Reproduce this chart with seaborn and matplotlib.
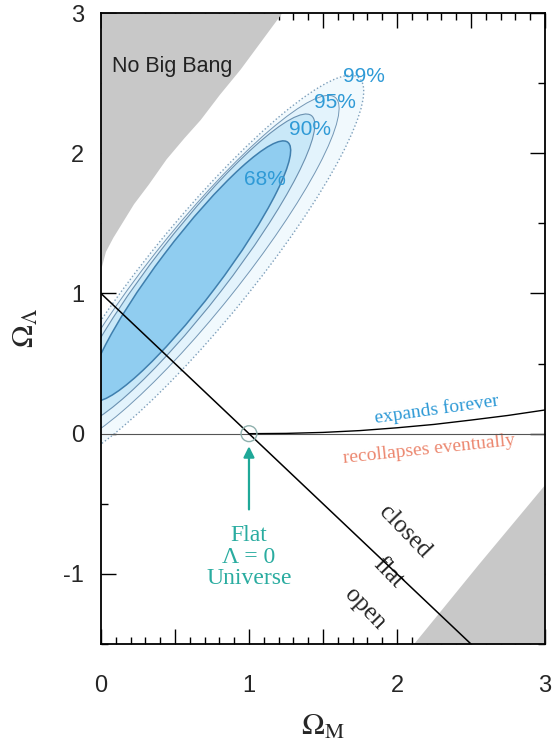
import numpy as np
import pandas as pd
import matplotlib
matplotlib.use("Agg")
import matplotlib.pyplot as plt
from matplotlib.patches import Ellipse
from matplotlib.ticker import MultipleLocator
import seaborn as sns

# ---- data ----
# confidence regions: upper tip, lower tip (major axis ends) and half width
levels = ["99%", "95%", "90%", "68%"]
tip_upper_m = [1.74, 1.58, 1.42, 1.26]
tip_upper_l = [2.54, 2.40, 2.27, 2.08]
tip_lower_m = [-0.40, -0.30, -0.20, -0.06]
tip_lower_l = [-0.24, -0.08, 0.06, 0.24]
half_width = [0.35, 0.295, 0.25, 0.21]
fill_colors = ["#f1f9fd", "#e3f3fc", "#c9e8f8", "#90cdf0"]
edge_colors = ["#7d9fbb", "#7497b5", "#6a90b0", "#3f7fae"]
edge_styles = [":", "-", "-", "-"]
edge_widths = [1.0, 0.7, 0.8, 1.1]

# label positions of the confidence levels
label_m = [1.78, 1.58, 1.41, 1.11]
label_l = [2.55, 2.36, 2.17, 1.81]

# "No Big Bang" boundary
nbb_m = [0.0, 0.03, 0.08, 0.15, 0.22, 0.32, 0.44, 0.56, 0.67, 0.80, 0.94, 1.08, 1.22]
nbb_l = [1.18, 1.30, 1.40, 1.52, 1.64, 1.78, 1.96, 2.11, 2.24, 2.42, 2.60, 2.80, 3.0]

# lower right excluded region boundary
bounce_m = [2.11, 2.55, 3.0]
bounce_l = [-1.5, -0.93, -0.36]

# flat universe line (two pieces, gap for the "flat" word)
flat_m = [0.0, 1.82, np.nan, 2.07, 2.5]
flat_l = [1.0, -0.82, np.nan, -1.07, -1.5]

# expands forever / recollapses boundary
exp_m = [1.0, 1.25, 1.5, 1.75, 2.0, 2.25, 2.5, 2.75, 3.0]
exp_l = [0.0, 0.002, 0.009, 0.022, 0.042, 0.066, 0.097, 0.13, 0.169]

sns.set_theme(style="ticks")
plt.rcParams["font.family"] = ["Liberation Sans", "DejaVu Sans"]
plt.rcParams["mathtext.fontset"] = "stix"

fig = plt.figure(figsize=(5.53, 7.44), dpi=100)
ax = fig.add_axes([0.1826, 0.1344, 0.8029, 0.8481])

# gray regions
ax.fill_between(nbb_m, nbb_l, 3.0, color="#c8c8c8", lw=0, zorder=1)
ax.fill_between(bounce_m, -1.5, bounce_l, color="#c8c8c8", lw=0, zorder=1)

# confidence ellipses, outer first
for i, lev in enumerate(levels):
    x1, y1 = tip_lower_m[i], tip_lower_l[i]
    x2, y2 = tip_upper_m[i], tip_upper_l[i]
    cx, cy = (x1 + x2) / 2, (y1 + y2) / 2
    length = np.hypot(x2 - x1, y2 - y1)
    ang = np.degrees(np.arctan2(y2 - y1, x2 - x1))
    ax.add_patch(Ellipse((cx, cy), length, 2 * half_width[i], angle=ang,
                         facecolor=fill_colors[i], edgecolor="none", zorder=2 + i))
    ax.add_patch(Ellipse((cx, cy), length, 2 * half_width[i], angle=ang,
                         facecolor="none", edgecolor=edge_colors[i],
                         ls=edge_styles[i], lw=edge_widths[i], zorder=7))
    ax.text(label_m[i], label_l[i], lev, color="#2f9ad6", fontsize=15,
            ha="center", va="center", zorder=9)

# lines
ax.axhline(0, color="#555555", lw=0.8, zorder=8)
sns.lineplot(x=flat_m, y=flat_l, ax=ax, color="black", lw=1.1, sort=False,
             estimator=None, zorder=8)
sns.lineplot(x=exp_m, y=exp_l, ax=ax, color="black", lw=1.0, sort=False,
             estimator=None, zorder=8)

# flat lambda=0 marker and arrow
ax.scatter([1.0], [0.0], s=130, facecolors="none", edgecolors="#8fb0ad", lw=1.0, zorder=9)
ax.annotate("", xy=(1.0, -0.07), xytext=(1.0, -0.56),
            arrowprops=dict(arrowstyle="-|>", color="#1fa898", lw=1.6,
                            mutation_scale=16), zorder=9)
ax.text(1.0, -0.88, "Flat\n\u039b = 0\nUniverse", color="#2aaca0", fontsize=17,
        family="Liberation Serif", ha="center", va="center", linespacing=1.05)

ax.text(0.074, 2.62, "No Big Bang", fontsize=15.5, color="#222222",
        ha="left", va="center", zorder=9)

serif = "Liberation Serif"
ax.text(2.27, 0.17, "expands forever", color="#2f9ad6", fontsize=14, family=serif,
        rotation=8, ha="center", va="center")
ax.text(2.22, -0.115, "recollapses eventually", color="#ec8870", fontsize=14,
        family=serif, rotation=6, ha="center", va="center")
ax.text(2.05, -0.70, "closed", fontsize=18, family=serif, rotation=-46,
        ha="center", va="center")
ax.text(1.94, -0.99, "flat", fontsize=18, family=serif, rotation=-46,
        ha="center", va="center")
ax.text(1.78, -1.25, "open", fontsize=18, family=serif, rotation=-46,
        ha="center", va="center")

# axes
ax.set_xlim(0, 3)
ax.set_ylim(-1.5, 3)
ax.set_xticks([0, 0.5, 1, 1.5, 2, 2.5, 3], labels=["0", "", "1", "", "2", "", "3"])
ax.set_yticks([-1, 0, 1, 2, 3], labels=["-1", "0", "1", "2", "3"])
ax.xaxis.set_minor_locator(MultipleLocator(0.1))
ax.yaxis.set_minor_locator(MultipleLocator(0.5))
ax.tick_params(which="both", direction="in", top=True, right=True, color="black")
ax.tick_params(which="major", length=11, width=1.0, labelsize=17)
ax.tick_params(which="minor", length=5, width=1.0)
ax.tick_params(axis="x", which="major", pad=22)
ax.tick_params(axis="y", which="major", pad=12)
for s in ax.spines.values():
    s.set_color("black")
    s.set_linewidth(1.3)
    s.set_zorder(10)

ax.set_xlabel(r"$\Omega_\mathrm{M}$", fontsize=22)
ax.set_ylabel(r"$\Omega_\Lambda$", fontsize=22)
ax.xaxis.set_label_coords(0.5, -0.108)
ax.yaxis.set_label_coords(-0.135, 0.5)

fig.savefig("out.png", dpi=100)
